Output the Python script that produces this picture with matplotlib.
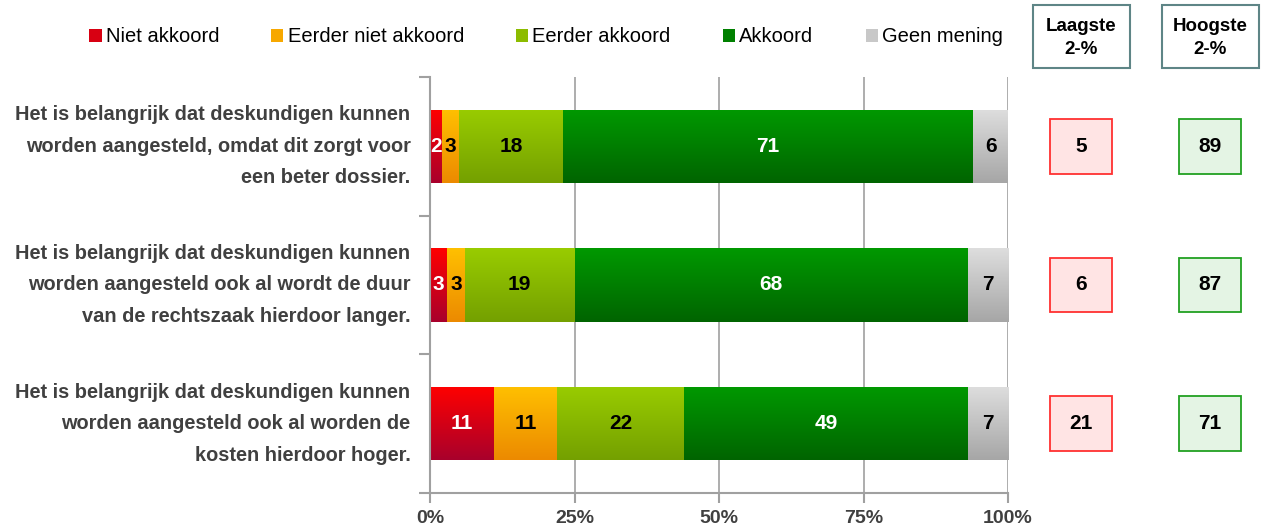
"""
Stacked agreement bars for three statements, with lowest/highest 2 box scores.
"""

import numpy as np
import matplotlib.pyplot as plt
from matplotlib.colors import LinearSegmentedColormap
from matplotlib.patches import Rectangle, Patch

plt.rcParams['font.family'] = ['Liberation Sans', 'DejaVu Sans']

statements = [
    "Het is belangrijk dat deskundigen kunnen\nworden aangesteld, omdat dit zorgt voor\neen beter dossier.",
    "Het is belangrijk dat deskundigen kunnen\nworden aangesteld ook al wordt de duur\nvan de rechtszaak hierdoor langer.",
    "Het is belangrijk dat deskundigen kunnen\nworden aangesteld ook al worden de\nkosten hierdoor hoger.",
]
categories = ["Niet akkoord", "Eerder niet akkoord", "Eerder akkoord", "Akkoord", "Geen mening"]
niet_akkoord = [2, 3, 11]
eerder_niet_akkoord = [3, 3, 11]
eerder_akkoord = [18, 19, 22]
akkoord = [71, 68, 49]
geen_mening = [6, 7, 7]
laagste_2 = [5, 6, 21]
hoogste_2 = [89, 87, 71]
x_ticks = [0, 25, 50, 75, 100]
x_tick_labels = ["0%", "25%", "50%", "75%", "100%"]

grad_top = ["#FF0000", "#FFC000", "#99CC00", "#009900", "#DEDEDE"]
grad_bottom = ["#A8002C", "#EC8A00", "#74A000", "#006400", "#A6A6A6"]
legend_colors = ["#D80012", "#F7A800", "#8CBC00", "#008000", "#C8C8C8"]
text_colors = ["white", "black", "black", "white", "black"]
GREY = "#A0A0A0"
DARK = "#404040"

W, H = 1263, 528
fig = plt.figure(figsize=(W / 100, H / 100), dpi=100)

ax = fig.add_axes([430 / W, 35 / H, 578 / W, 416 / H])

series = [niet_akkoord, eerder_niet_akkoord, eerder_akkoord, akkoord, geen_mening]
ypos = np.arange(len(statements))[::-1]
bar_h = 0.53
grad = np.linspace(0, 1, 256).reshape(-1, 1)

left = np.zeros(len(statements))
for i, vals in enumerate(series):
    vals = np.array(vals, dtype=float)
    bars = ax.barh(ypos, vals, left=left, height=bar_h, color='none',
                   edgecolor='none', zorder=2)
    cmap = LinearSegmentedColormap.from_list("g%d" % i, [grad_bottom[i], grad_top[i]])
    for b, v in zip(bars, vals):
        x0, y0 = b.get_x(), b.get_y()
        im = ax.imshow(grad, extent=[x0, x0 + b.get_width(), y0, y0 + b.get_height()],
                       origin='lower', cmap=cmap, aspect='auto',
                       interpolation='bicubic', zorder=2)
        im.set_clip_path(b)
        ax.text(x0 + b.get_width() / 2, y0 + b.get_height() / 2, "%d" % v,
                ha='center', va='center', fontsize=15, fontweight='bold',
                color=text_colors[i], zorder=3)
    left += vals

ax.set_xlim(0, 100)
ax.set_ylim(-0.5, 2.5)

ax.set_axisbelow(True)
ax.xaxis.grid(True, color=GREY, linewidth=1.2)
for s in ['top', 'right']:
    ax.spines[s].set_visible(False)
for s in ['left', 'bottom']:
    ax.spines[s].set_color(GREY)
    ax.spines[s].set_linewidth(1.5)

ax.set_xticks(x_ticks)
ax.set_xticklabels(x_tick_labels, fontsize=14, fontweight='bold', color=DARK)
ax.tick_params(axis='x', length=7, width=1.5, color=GREY, pad=5)

ax.set_yticks([-0.5, 0.5, 1.5, 2.5])
ax.set_yticklabels([])
ax.tick_params(axis='y', which='major', length=8, width=1.5, color=GREY)
ax.set_yticks(ypos, minor=True)
ax.set_yticklabels(statements, minor=True, fontsize=14.4, fontweight='bold',
                   color=DARK, linespacing=1.84, ha='right', va='center')
ax.tick_params(axis='y', which='minor', length=0, pad=14)

# box scores on the right
ax2 = fig.add_axes([1030 / W, 35 / H, 233 / W, 416 / H])
ax2.set_xlim(0, 233)
ax2.set_ylim(-0.5, 2.5)
ax2.axis('off')
box_h = 55 / 138.7
for col, vals, face, edge in [(51, laagste_2, "#FFE4E4", "#FF3030"),
                              (180, hoogste_2, "#E4F4E4", "#22A022")]:
    for y, v in zip(ypos, vals):
        ax2.add_patch(Rectangle((col - 31, y - box_h / 2), 62, box_h,
                                facecolor=face, edgecolor=edge, linewidth=1.3))
        ax2.text(col, y, "%d" % v, ha='center', va='center', fontsize=15,
                 fontweight='bold', color='black')

for x0, title in [(1033, "Laagste\n2-%"), (1162, "Hoogste\n2-%")]:
    fig.patches.append(Rectangle((x0 / W, (H - 68) / H), 97 / W, 63 / H,
                                 transform=fig.transFigure, facecolor='white',
                                 edgecolor="#5E8586", linewidth=1.5))
    fig.text((x0 + 48.5) / W, (H - 38) / H, title, ha='center', va='center',
             fontsize=13.5, fontweight='bold', linespacing=1.5)

handles = [Patch(facecolor=c, edgecolor='none') for c in legend_colors]
fig.legend(handles, categories, loc='center', bbox_to_anchor=(546 / W, 1 - 37 / H),
           ncol=5, frameon=False, fontsize=14.5, handlelength=0.6, handleheight=0.6,
           handletextpad=0.2, columnspacing=2.6)

fig.savefig("out.png", dpi=100)
